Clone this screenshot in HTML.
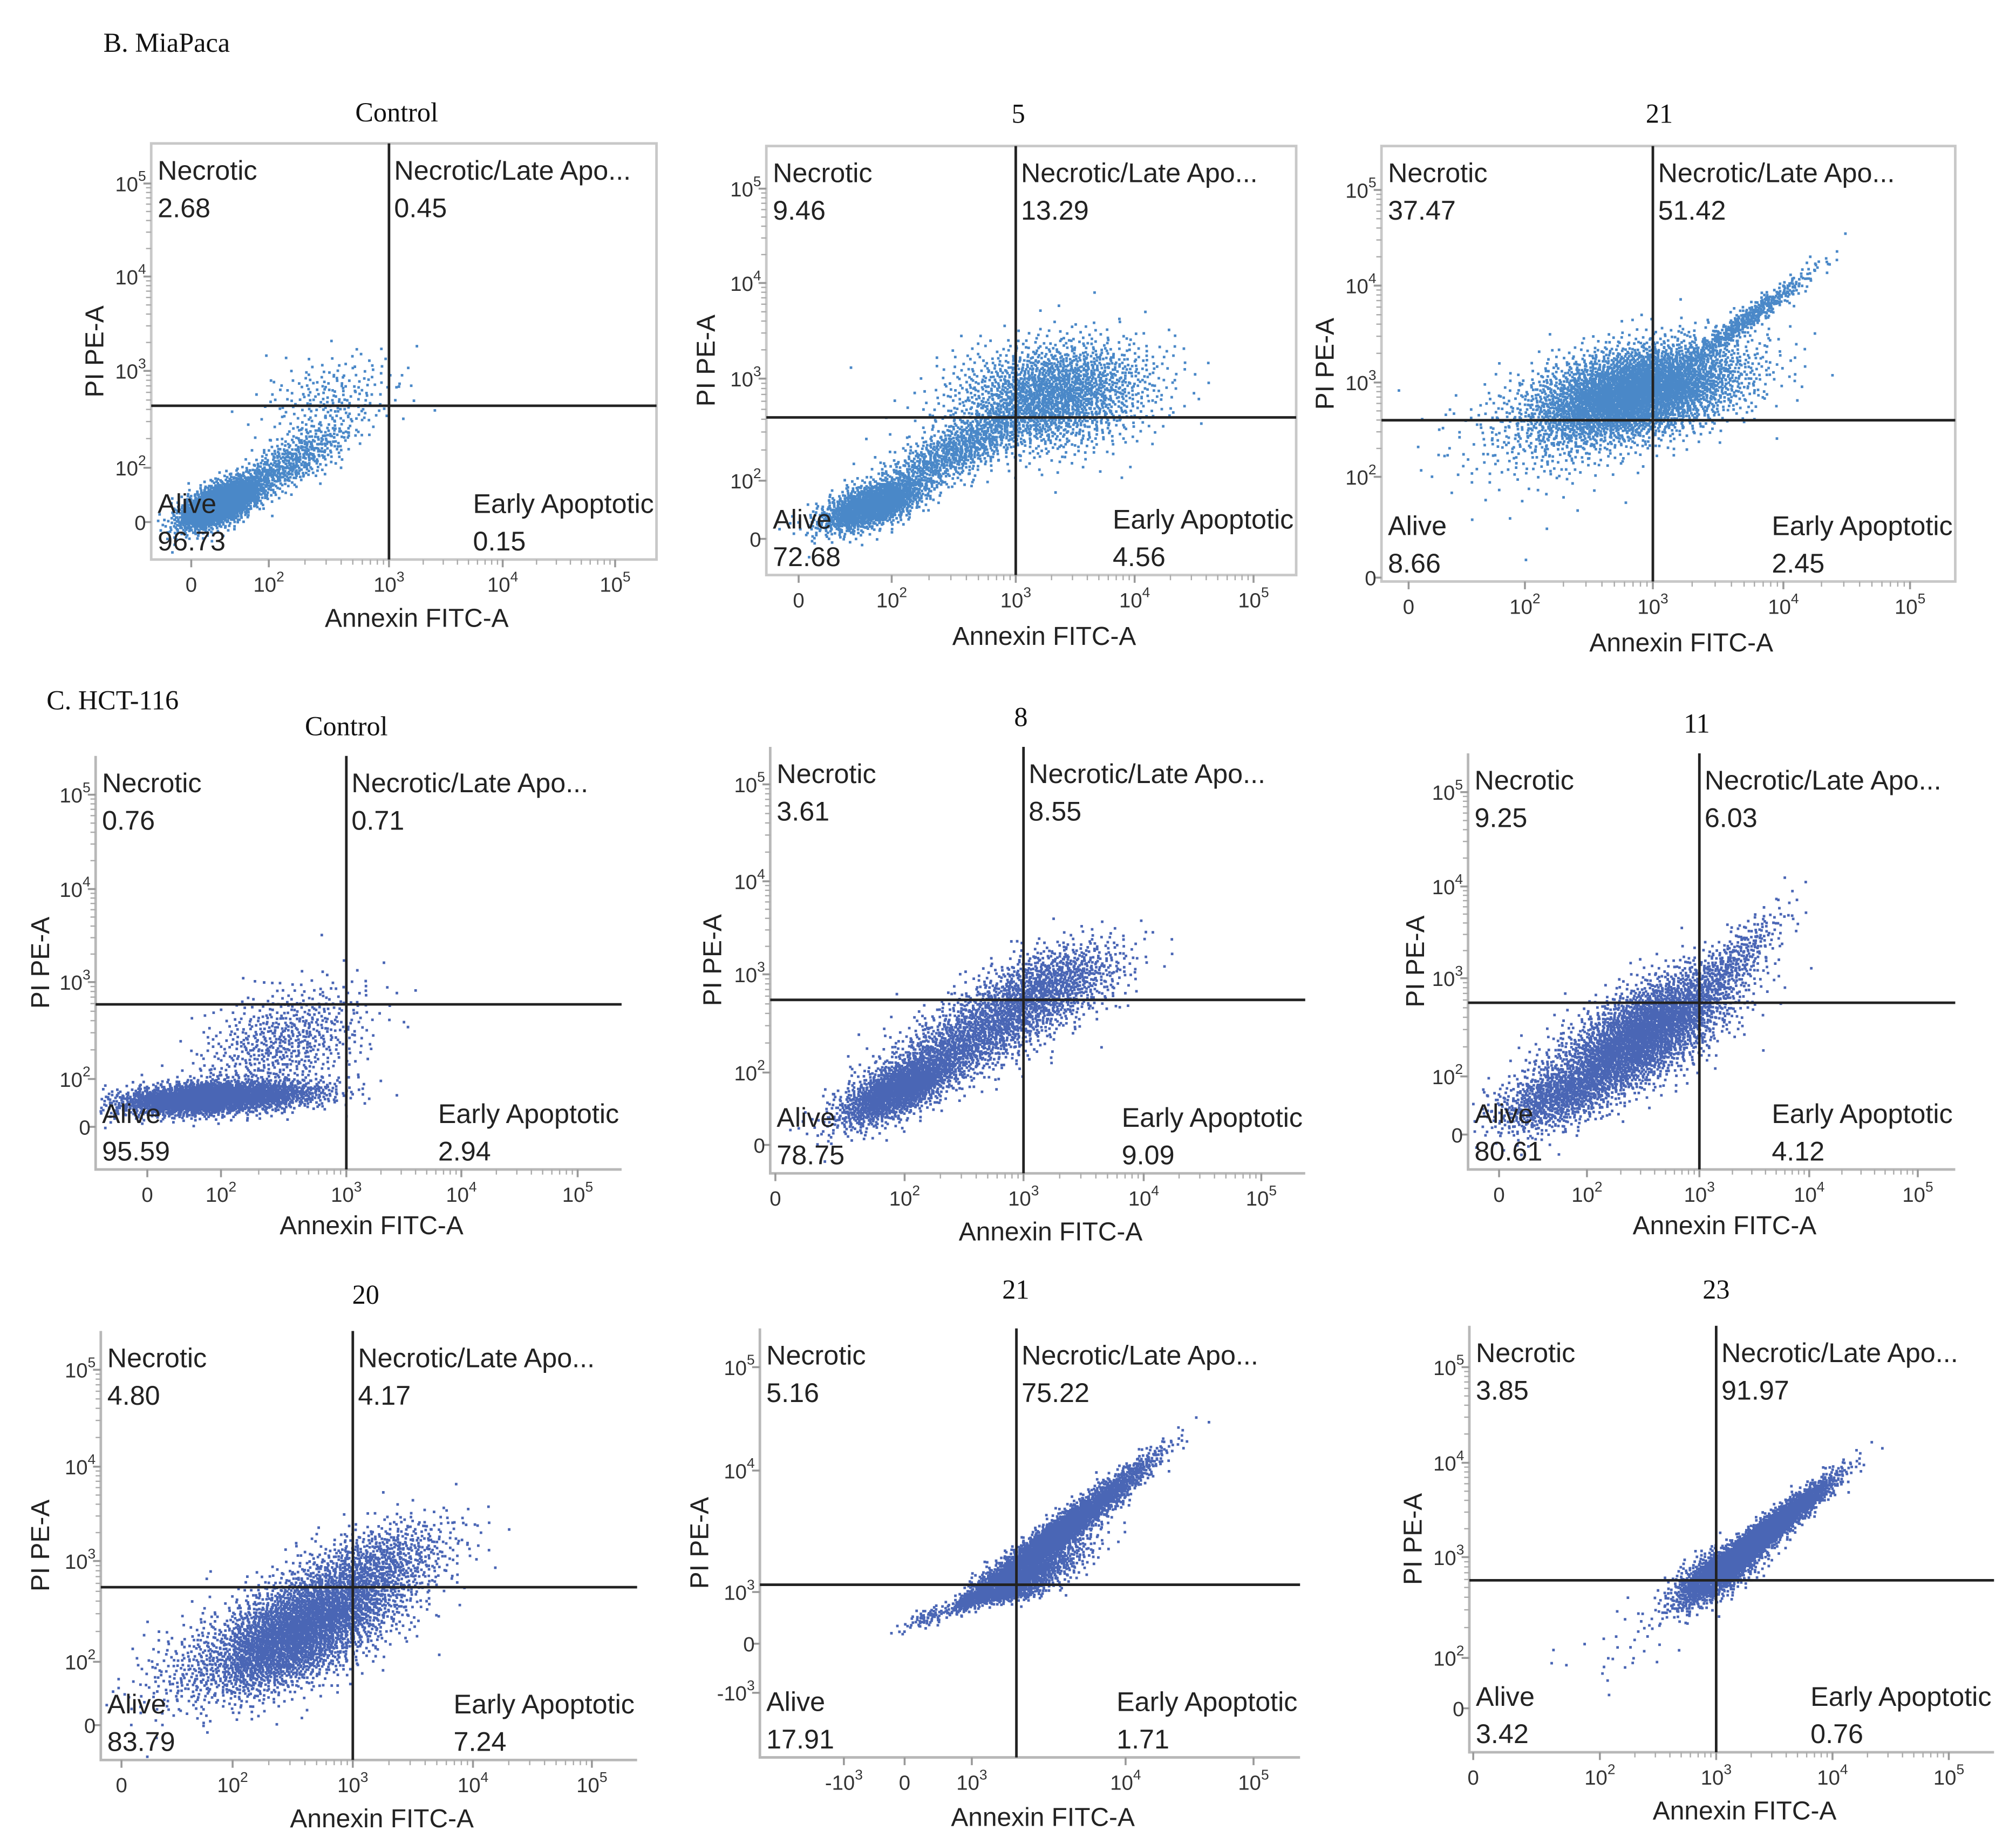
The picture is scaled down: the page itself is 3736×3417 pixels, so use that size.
<!DOCTYPE html>
<html><head><meta charset="utf-8">
<style>
html,body{margin:0;padding:0;background:#fff;}
svg{display:block;}
.q{font-family:"Liberation Sans",sans-serif;font-size:21px;fill:#222;}
.t{font-family:"Liberation Sans",sans-serif;font-size:16px;fill:#333;}
.ax{font-family:"Liberation Sans",sans-serif;font-size:20px;fill:#222;}
.ti{font-family:"Liberation Serif",serif;font-size:21px;fill:#111;}
</style></head>
<body>
<svg id="fig" width="3736" height="3417" viewBox="0 0 1560 1427" preserveAspectRatio="none" xmlns="http://www.w3.org/2000/svg">
<text class="ti" x="80" y="40">B. MiaPaca</text>
<text class="ti" x="36" y="549">C. HCT-116</text>
</svg>
<script>
// ---- data ----
const panelTitles = ["Control","5","21","Control","8","11","20","21","23"];
const necroticVals = ["2.68","9.46","37.47","0.76","3.61","9.25","4.80","5.16","3.85"];
const lateVals = ["0.45","13.29","51.42","0.71","8.55","6.03","4.17","75.22","91.97"];
const aliveVals = ["96.73","72.68","8.66","95.59","78.75","80.61","83.79","17.91","3.42"];
const earlyVals = ["0.15","4.56","2.45","2.94","9.09","4.12","7.24","1.71","0.76"];
const gateX = [3,3,3,3,3,3,3,1.29,3];
const gateY = [2.64,2.62,2.6,2.77,2.74,2.75,2.74,1.06,2.77];
const stdXTicks = ["0","10^2","10^3","10^4","10^5"];
const p8XTicks = ["-10^3","0","10^3","10^4","10^5"];
const stdYTicks = ["0","10^2","10^3","10^4","10^5"];
const p8YTicks = ["-10^3","0","10^3","10^4","10^5"];
// clusters per panel: [cx, cy, sx, sy, rho, n] in axis units
const clusters0 = [[1.55,1.55,0.18,0.16,0.6,2200],[2.15,2.05,0.28,0.24,0.8,600],[2.5,2.75,0.3,0.22,0.3,200]];
const clusters1 = [[1.85,1.72,0.2,0.16,0.6,1500],[2.5,2.3,0.33,0.24,0.8,900],[3.3,2.85,0.42,0.28,0.2,2000]];
const clusters2 = [[2.85,2.9,0.42,0.26,0.4,4200],[3.7,3.65,0.27,0.27,0.97,500],[2.2,2.4,0.35,0.3,0.3,250]];
const clusters3 = [[1.9,1.74,0.42,0.12,0.3,3000],[2.5,2.4,0.35,0.3,0.4,650]];
const clusters4 = [[1.95,1.85,0.24,0.18,0.7,1700],[2.6,2.4,0.4,0.3,0.7,1500],[3.2,2.9,0.33,0.24,0.5,900]];
const clusters5 = [[2.48,2.43,0.42,0.35,0.7,3200],[1.75,1.75,0.26,0.22,0.5,800],[3.3,3.2,0.25,0.3,0.85,300]];
const clusters6 = [[2.54,2.33,0.45,0.35,0.65,3800],[3.2,3.0,0.35,0.25,0.5,600]];
const clusters7 = [[1.55,1.48,0.3,0.3,0.97,3200],[1.3,1.1,0.22,0.17,0.8,1300],[0.35,0.55,0.22,0.15,0.8,80]];
const clusters8 = [[3.4,3.25,0.28,0.28,0.96,3200],[3.0,2.85,0.2,0.17,0.7,1100],[2.2,2.1,0.25,0.25,0.5,30]];
const allClusters = [clusters0,clusters1,clusters2,clusters3,clusters4,clusters5,clusters6,clusters7,clusters8];

// ---- layout ----
const layout = [
 {b:[117,111,508,433],xk:[148,208,301,389,476],yk:[404,362,287,214,142],xl:[1.3,2,3,4,5],yl:[1.3,2,3,4,5],col:"#4a88c8",full:true,tx:307,ty:94,xlabY:485,ylabX:80},
 {b:[593,113,1003,445],xk:[618,690,786,878,970],yk:[417,372,293,219,146],xl:[1.3,2,3,4,5],yl:[1.3,2,3,4,5],col:"#4a88c8",full:true,tx:788,ty:95,xlabY:499,ylabX:553},
 {b:[1069,113,1513,450],xk:[1090,1180,1279,1380,1478],yk:[447,369,296,221,147],xl:[1.3,2,3,4,5],yl:[1.3,2,3,4,5],col:"#4a88c8",full:true,tx:1284,ty:95,xlabY:504,ylabX:1032},
 {b:[74,585,481,905],xk:[114,171,268,357,447],yk:[872,835,760,688,615],xl:[1.3,2,3,4,5],yl:[1.3,2,3,4,5],col:"#4a66b5",full:false,tx:268,ty:569,xlabY:955,ylabX:38},
 {b:[596,578,1010,908],xk:[600,700,792,885,976],yk:[886,830,754,682,607],xl:[1.0,2,3,4,5],yl:[1.3,2,3,4,5],col:"#4a66b5",full:false,tx:790,ty:562,xlabY:960,ylabX:558},
 {b:[1136,583,1513,905],xk:[1160,1228,1315,1400,1484],yk:[878,833,757,686,613],xl:[1.3,2,3,4,5],yl:[1.3,2,3,4,5],col:"#4a66b5",full:false,tx:1313,ty:567,xlabY:955,ylabX:1102},
 {b:[78,1030,493,1362],xk:[94,180,273,366,458],yk:[1335,1286,1208,1135,1060],xl:[1.3,2,3,4,5],yl:[1.3,2,3,4,5],col:"#4a66b5",full:false,tx:283,ty:1009,xlabY:1414,ylabX:38},
 {b:[588,1028,1006,1360],xk:[653,700,752,871,970],yk:[1310,1272,1232,1138,1058],xl:[-1,0,1,2,3],yl:[-1,0,1,2,3],col:"#4a66b5",full:false,tx:786,ty:1005,xlabY:1413,ylabX:548},
 {b:[1137,1026,1543,1356],xk:[1140,1238,1328,1418,1508],yk:[1322,1283,1205,1132,1058],xl:[1.3,2,3,4,5],yl:[1.3,2,3,4,5],col:"#4a66b5",full:false,tx:1328,ty:1005,xlabY:1408,ylabX:1100}
];
const NS="http://www.w3.org/2000/svg";
const svg=document.getElementById('fig');
function mk(tag,attrs,parent){const e=document.createElementNS(NS,tag);for(const k in attrs)e.setAttribute(k,attrs[k]);(parent||svg).appendChild(e);return e;}
function interp(v,vals,px){let i=0;while(i<vals.length-2&&v>vals[i+1])i++;return px[i]+(v-vals[i])*(px[i+1]-px[i])/(vals[i+1]-vals[i]);}
function halton(i,b){let f=1,r=0;while(i>0){f/=b;r+=f*(i%b);i=Math.floor(i/b);}return r;}
function tickLabel(g,lab,x,y,anchor){
  const t=mk('text',{class:'t',x:x,y:y,'text-anchor':anchor},g);
  
  
  const m=lab.match(/^(-?)10\^(\d)$/);
  if(m){t.textContent=m[1]+'10';const s=mk('tspan',{dy:-8,'font-size':11},t);s.textContent=m[2];}
  else t.textContent=lab;
}
layout.forEach((L,p)=>{
  const g=mk('g',{});
  
  
  const [x0,y0,x1,y1]=L.b;
  const X=v=>interp(v,L.xl,L.xk), Y=v=>interp(v,L.yl,L.yk);
  const xt=(p===7)?p8XTicks:stdXTicks, yt=(p===7)?p8YTicks:stdYTicks;
  const tt=mk('text',{class:'ti',x:L.tx,y:L.ty,'text-anchor':'middle'},g);
  
  
  tt.textContent=panelTitles[p];
  if(L.full){const r=mk('rect',{x:x0,y:y0,width:x1-x0,height:y1-y0,fill:'none',stroke:'#c8c8c8','stroke-width':2},g);
    }
  else{const a=mk('path',{d:`M${x0},${y0}V${y1}H${x1}`,fill:'none',stroke:'#b8b8b8','stroke-width':2},g);
    }
  const pts=mk('g',{fill:L.col},g);
  
  
  let idx=1; let d='';
  allClusters[p].forEach(c=>{
    const [cx,cy,sx,sy,rho,n]=c;
    for(let k=0;k<n;k++,idx++){
      const u1=Math.max(1e-6,halton(idx,2)),u2=halton(idx,3),u3=halton(idx,5);
      const rr=Math.sqrt(-2*Math.log(u1));
      const z1=rr*Math.cos(2*Math.PI*u2), z2=rr*Math.sin(2*Math.PI*u2);
      const vx=cx+sx*z1, vy=cy+sy*(rho*z1+Math.sqrt(1-rho*rho)*z2);
      const px=X(vx)+(u3-0.5)*0.6, py=Y(vy);
      if(px<x0+2||px>x1-2||py<y0+2||py>y1-2)continue;
      d+=`M${px.toFixed(1)},${py.toFixed(1)}h2v2h-2z`;
    }
  });
  mk('path',{d:d},pts);
  const gx=X(gateX[p]), gy=Y(gateY[p]);
  const vl=mk('line',{x1:gx,x2:gx,y1:y0,y2:y1,stroke:'#222','stroke-width':2},g);
  
  const hl=mk('line',{x1:x0,x2:x1,y1:gy,y2:gy,stroke:'#222','stroke-width':2},g);
  
  L.xk.forEach((px,i)=>{
    const tk=mk('line',{x1:px,x2:px,y1:y1,y2:y1+6,stroke:'#999','stroke-width':1.5},g);
    
    tickLabel(g,xt[i],px,y1+25,'middle');
    if(i>0&&i<L.xk.length-1&&p!==7){for(let m=2;m<10;m++){const q=px+(L.xk[i+1]-px)*Math.log10(m);
      const mt=mk('line',{x1:q,x2:q,y1:y1,y2:y1+4,stroke:'#aaa','stroke-width':1},g);
      }}
  });
  L.yk.forEach((py,i)=>{
    const tk=mk('line',{x1:x0-6,x2:x0,y1:py,y2:py,stroke:'#999','stroke-width':1.5},g);
    
    tickLabel(g,yt[i],x0-4,py+6,'end');
    if(i>0&&i<L.yk.length-1&&p!==7){for(let m=2;m<10;m++){const q=py+(L.yk[i+1]-py)*Math.log10(m);
      const mt=mk('line',{x1:x0-4,x2:x0,y1:q,y2:q,stroke:'#aaa','stroke-width':1},g);
      }}
  });
  const xa=mk('text',{class:'ax',x:(x0+x1)/2+10,y:L.xlabY,'text-anchor':'middle'},g);
  
  xa.textContent='Annexin FITC-A';
  const ya=mk('text',{class:'ax',x:L.ylabX,y:(y0+y1)/2,'text-anchor':'middle',transform:`rotate(-90 ${L.ylabX} ${(y0+y1)/2})`},g);
  
  ya.textContent='PI PE-A';
  const q=(txt,x,y,anc,name)=>{const e=mk('text',{class:'q',x:x,y:y,'text-anchor':anc},g);
    e.textContent=txt;return e;};
  q('Necrotic',x0+5,y0+28,'start','necrotic-label');
  q(necroticVals[p],x0+5,y0+57,'start','necrotic-value');
  q('Necrotic/Late Apo...',gx+4,y0+28,'start','late-apoptotic-label');
  q(lateVals[p],gx+4,y0+57,'start','late-apoptotic-value');
  q('Alive',x0+5,y1-36,'start','alive-label');
  q(aliveVals[p],x0+5,y1-7,'start','alive-value');
  const el=q('Early Apoptotic',x1-2,y1-36,'end','early-apoptotic-label');
  let w=150; try{w=el.getComputedTextLength();}catch(e){}
  q(earlyVals[p],x1-2-w,y1-7,'start','early-apoptotic-value');
});
</script>
</body></html>
